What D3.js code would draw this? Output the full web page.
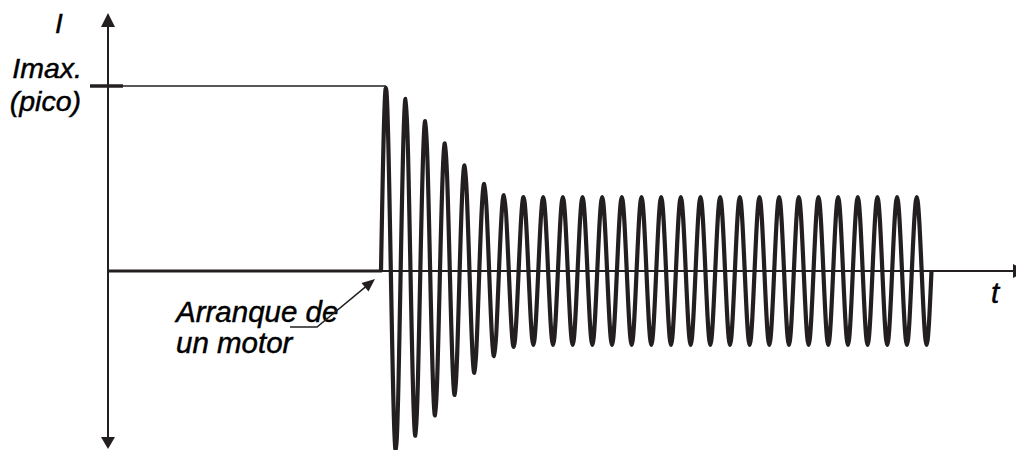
<!DOCTYPE html>
<html>
<head>
<meta charset="utf-8">
<script src="https://cdn.jsdelivr.net/npm/d3@7"></script>
<style>
  html, body { margin: 0; padding: 0; background: #ffffff; }
  svg { display: block; }
  text { font-family: "Liberation Sans", Arial, sans-serif; font-style: italic; fill: #000; stroke: #000; stroke-width: 0.45px; }
</style>
</head>
<body>
<svg id="chart" width="1016" height="450"></svg>
<script>
// ---- Data (amplitude relative to Imax = 1) ----
const cycles = [1, 2, 3, 4, 5, 6, 7, 8, 9, 10, 11, 12, 13, 14, 15, 16, 17, 18, 19, 20, 21, 22, 23, 24, 25, 26, 27, 28];
const peakValues = [0.99, 0.93, 0.81, 0.69, 0.57, 0.47, 0.41, 0.40, 0.40, 0.40, 0.40, 0.40, 0.40, 0.40,
                    0.40, 0.40, 0.40, 0.40, 0.40, 0.40, 0.40, 0.40, 0.40, 0.40, 0.40, 0.40, 0.40, 0.40];
const troughValues = [-0.97, -0.89, -0.78, -0.67, -0.55, -0.46, -0.41, -0.40, -0.40, -0.40, -0.40, -0.40, -0.40, -0.40,
                      -0.40, -0.40, -0.40, -0.40, -0.40, -0.40, -0.40, -0.40, -0.40, -0.40, -0.40, -0.40, -0.40, -0.40];
const startTime = 0;        // motor start (cycles)
const imaxValue = 1;
const yAxisLabel = "I";
const xAxisLabel = "t";
const imaxLabel = ["Imax.", "(pico)"];
const annotationLabel = ["Arranque de", "un motor"];

// ---- Layout ----
const ink = "#231f20";
const svg = d3.select("#chart");
const x = d3.scaleLinear().domain([0, 28]).range([381, 931.5]);
const y = d3.scaleLinear().domain([0, 1]).range([271, 86]);
const axisX = 108;
const zeroY = y(0);

// waveform points: zero, peak, zero, trough per cycle
const pts = [];
cycles.forEach((c, i) => {
  pts.push([c - 1, 0]);
  pts.push([c - 0.75, peakValues[i]]);
  pts.push([c - 0.5, 0]);
  pts.push([c - 0.25, troughValues[i]]);
});
pts.push([cycles[cycles.length - 1], 0]);

// ---- Axes ----
svg.append("line").attr("x1", axisX).attr("x2", axisX).attr("y1", 20).attr("y2", 442)
  .attr("stroke", ink).attr("stroke-width", 2);
svg.append("line").attr("x1", axisX).attr("x2", 1016).attr("y1", zeroY).attr("y2", zeroY)
  .attr("stroke", ink).attr("stroke-width", 2);
// arrowheads
svg.append("path").attr("d", `M${axisX},13 L${axisX - 7},27 L${axisX + 7},27 Z`).attr("fill", ink);
svg.append("path").attr("d", `M${axisX},449 L${axisX - 7},437 L${axisX + 7},437 Z`).attr("fill", ink);
svg.append("path").attr("d", `M1027,${zeroY} L1013,${zeroY - 7} L1013,${zeroY + 7} Z`).attr("fill", ink);

// ---- Imax reference ----
svg.append("line").attr("x1", 123).attr("x2", x(startTime + 0.25)).attr("y1", y(imaxValue)).attr("y2", y(imaxValue))
  .attr("stroke", ink).attr("stroke-width", 1.5);
svg.append("line").attr("x1", 90).attr("x2", 123).attr("y1", y(imaxValue)).attr("y2", y(imaxValue))
  .attr("stroke", ink).attr("stroke-width", 3.5);

// ---- Baseline before start ----
svg.append("line").attr("x1", axisX).attr("x2", x(startTime) + 1).attr("y1", zeroY).attr("y2", zeroY)
  .attr("stroke", ink).attr("stroke-width", 3);

// ---- Waveform ----
const line = d3.line().x(d => x(d[0])).y(d => y(d[1])).curve(d3.curveNatural);
svg.append("path").attr("d", line(pts)).attr("fill", "none")
  .attr("stroke", ink).attr("stroke-width", 4.2).attr("stroke-linejoin", "round");

// ---- Labels ----
svg.append("text").attr("x", 55).attr("y", 33).attr("font-size", 28).text(yAxisLabel);
svg.append("text").attr("x", 82).attr("y", 78).attr("font-size", 28.5).attr("text-anchor", "end").text(imaxLabel[0]);
svg.append("text").attr("x", 81).attr("y", 111).attr("font-size", 28.5).attr("text-anchor", "end").text(imaxLabel[1]);
svg.append("text").attr("x", 991).attr("y", 303).attr("font-size", 29.5).text(xAxisLabel);
svg.append("text").attr("x", 176).attr("y", 322).attr("font-size", 29.5).text(annotationLabel[0]);
svg.append("text").attr("x", 176).attr("y", 353).attr("font-size", 29.5).text(annotationLabel[1]);

// ---- Annotation arrow ----
const tipX = x(startTime) - 6, tipY = zeroY + 8;
svg.append("path").attr("d", `M290,327 L317,327 L${tipX - 8},${tipY + 6.6}`)
  .attr("fill", "none").attr("stroke", ink).attr("stroke-width", 1.5);
const ang = Math.atan2(tipY - 327, tipX - 317);
const hl = 13, hw = 5.5;
const bx = tipX - hl * Math.cos(ang), by = tipY - hl * Math.sin(ang);
svg.append("path").attr("d",
  `M${tipX},${tipY} L${bx + hw * Math.sin(ang)},${by - hw * Math.cos(ang)} L${bx - hw * Math.sin(ang)},${by + hw * Math.cos(ang)} Z`)
  .attr("fill", ink);
</script>
</body>
</html>
